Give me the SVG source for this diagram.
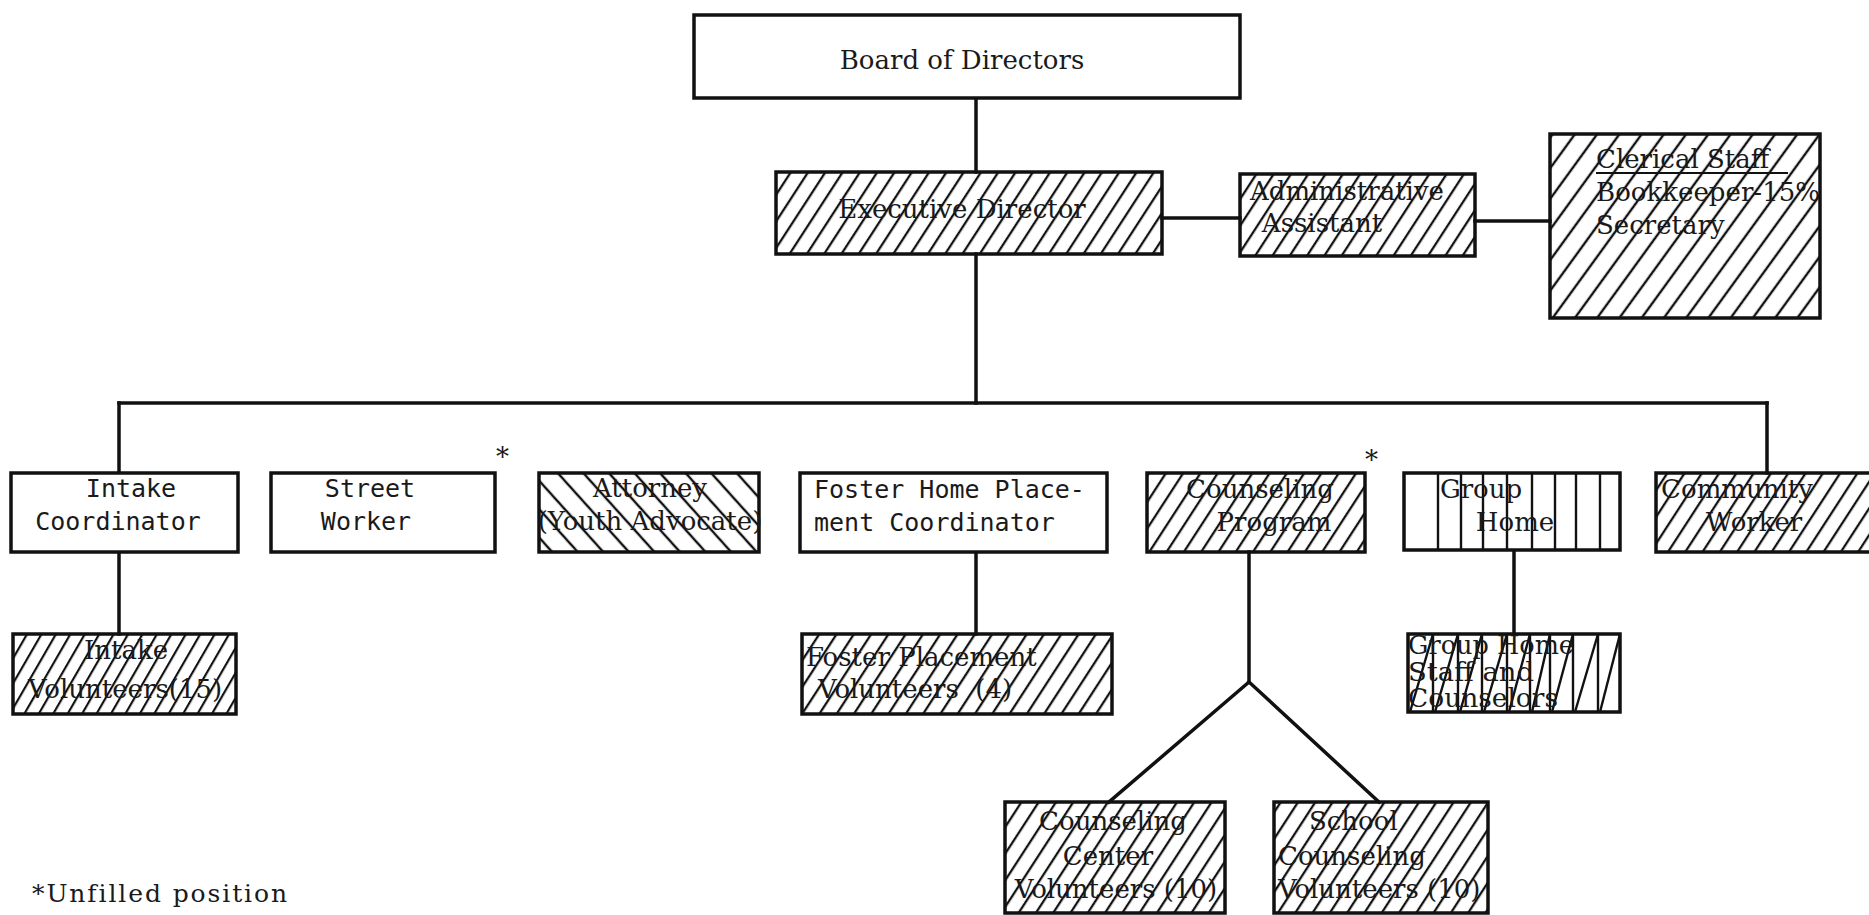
<svg xmlns="http://www.w3.org/2000/svg" width="1869" height="915" viewBox="0 0 1869 915">
<defs>
<pattern id="hf" width="14.5" height="30" patternUnits="userSpaceOnUse" patternTransform="rotate(33)"><line x1="3" y1="0" x2="3" y2="30" stroke="#111" stroke-width="2.3"/></pattern>
<pattern id="hd" width="12.5" height="30" patternUnits="userSpaceOnUse" patternTransform="rotate(30)"><line x1="3" y1="0" x2="3" y2="30" stroke="#111" stroke-width="2.2"/></pattern>
<pattern id="hc" width="18" height="30" patternUnits="userSpaceOnUse" patternTransform="rotate(36)"><line x1="3" y1="0" x2="3" y2="30" stroke="#111" stroke-width="2.4"/></pattern>
<pattern id="hb" width="19" height="30" patternUnits="userSpaceOnUse" patternTransform="rotate(-42)"><line x1="3" y1="0" x2="3" y2="30" stroke="#111" stroke-width="2.4"/></pattern>
</defs>
<style>
.box{stroke:#111;stroke-width:3.5;fill:#fff}
.hf{fill:url(#hf)}
.hd{fill:url(#hd)}
.hc{fill:url(#hc)}
.hb{fill:url(#hb)}
.con{stroke:#111;stroke-width:3.5;fill:none;stroke-linecap:square}
.vl{stroke:#111;stroke-width:2.4}
text{font-family:"DejaVu Serif","Liberation Serif",serif;font-size:26px;fill:#1a1a1a}
.m{font-family:"DejaVu Sans Mono","Liberation Mono",monospace;font-size:25px}
.c{text-anchor:middle}
.f{font-size:25px;letter-spacing:1.9px}
</style>
<rect width="1869" height="915" fill="#fff"/>
<g id="connectors">
<line class="con" x1="976" y1="98" x2="976" y2="172"/>
<line class="con" x1="1162" y1="218" x2="1240" y2="218"/>
<line class="con" x1="1475" y1="221" x2="1550" y2="221"/>
<line class="con" x1="976" y1="254" x2="976" y2="403"/>
<line class="con" x1="119" y1="403" x2="1767" y2="403"/>
<line class="con" x1="119" y1="403" x2="119" y2="473"/>
<line class="con" x1="1767" y1="403" x2="1767" y2="473"/>
<line class="con" x1="119" y1="552" x2="119" y2="634"/>
<line class="con" x1="976" y1="552" x2="976" y2="634"/>
<line class="con" x1="1514" y1="550" x2="1514" y2="634"/>
<polyline class="con" points="1249,552 1249,682 1109,802"/>
<line class="con" x1="1249" y1="682" x2="1379" y2="802"/>
</g>
<g id="board">
<rect class="box" x="694" y="15" width="546" height="83"/>
<text class="c" x="962" y="69">Board of Directors</text>
</g>
<g id="executive-director">
<rect class="box hf" x="776" y="172" width="386" height="82"/>
<text class="c" x="962" y="218" font-size="27">Executive Director</text>
</g>
<g id="admin-assistant">
<rect class="box hf" x="1240" y="174" width="235" height="82"/>
<text class="c" x="1347" y="200">Administrative</text>
<text class="c" x="1322" y="232">Assistant</text>
</g>
<g id="clerical-staff">
<rect class="box hc" x="1550" y="134" width="270" height="184"/>
<text x="1596" y="168" font-size="26">Clerical Staff</text>
<line x1="1596" y1="173" x2="1788" y2="173" stroke="#111" stroke-width="2"/>
<text x="1596" y="201" textLength="224" lengthAdjust="spacingAndGlyphs" font-size="26">Bookkeeper-15%</text>
<text x="1596" y="234" font-size="26">Secretary</text>
</g>
<g id="intake-coordinator">
<rect class="box" x="11" y="473" width="227" height="79"/>
<text class="m c" x="131" y="497">Intake</text>
<text class="m c" x="118" y="530">Coordinator</text>
</g>
<g id="street-worker">
<rect class="box" x="271" y="473" width="224" height="79"/>
<text class="m c" x="370" y="497">Street</text>
<text class="m c" x="366" y="530">Worker</text>
<text x="496" y="466" font-size="26" font-family="DejaVu Sans Mono,monospace">*</text>
</g>
<g id="attorney">
<rect class="box hb" x="539" y="473" width="220" height="79"/>
<text class="c" x="650" y="497" font-size="25">Attorney</text>
<text class="c" x="650" y="530" font-size="25">(Youth Advocate)</text>
</g>
<g id="foster-coordinator">
<rect class="box" x="800" y="473" width="307" height="79"/>
<text class="m" x="814" y="498" font-size="26.8">Foster Home Place-</text>
<text class="m" x="814" y="531" font-size="26.8">ment Coordinator</text>
</g>
<g id="counseling-program">
<rect class="box hf" x="1147" y="473" width="218" height="79"/>
<text class="c" x="1260" y="498">Counseling</text>
<text class="c" x="1274" y="531">Program</text>
<text x="1365" y="469" font-size="26" font-family="DejaVu Sans Mono,monospace">*</text>
</g>
<g id="group-home">
<rect class="box" x="1404" y="473" width="216" height="77"/>
<line class="vl" x1="1438" y1="473" x2="1438" y2="550"/>
<line class="vl" x1="1461" y1="473" x2="1461" y2="550"/>
<line class="vl" x1="1483" y1="473" x2="1483" y2="550"/>
<line class="vl" x1="1507" y1="473" x2="1507" y2="550"/>
<line class="vl" x1="1532" y1="473" x2="1532" y2="550"/>
<line class="vl" x1="1555" y1="473" x2="1555" y2="550"/>
<line class="vl" x1="1576" y1="473" x2="1576" y2="550"/>
<line class="vl" x1="1600" y1="473" x2="1600" y2="550"/>
<text class="c" x="1481" y="498">Group</text>
<text class="c" x="1515" y="531">Home</text>
</g>
<g id="community-worker">
<rect class="box hf" x="1656" y="473" width="230" height="79"/>
<text class="c" x="1737" y="498">Community</text>
<text class="c" x="1754" y="531">Worker</text>
</g>
<g id="intake-volunteers">
<rect class="box hd" x="13" y="634" width="223" height="80"/>
<text class="c" x="126" y="659" font-size="27">Intake</text>
<text class="c" x="125" y="698" font-size="27.5">Volunteers(15)</text>
</g>
<g id="foster-volunteers">
<rect class="box hf" x="802" y="634" width="310" height="80"/>
<text x="806" y="666" font-size="27.5">Foster Placement</text>
<text x="818" y="698" font-size="27.5">Volunteers&#160; (4)</text>
</g>
<g id="group-home-staff">
<rect class="box" x="1408" y="634" width="212" height="78"/>
<line class="vl" x1="1433" y1="634" x2="1433" y2="712"/>
<line class="vl" x1="1458" y1="634" x2="1458" y2="712"/>
<line class="vl" x1="1482" y1="634" x2="1482" y2="712"/>
<line class="vl" x1="1507" y1="634" x2="1507" y2="712"/>
<line class="vl" x1="1530" y1="634" x2="1530" y2="712"/>
<line class="vl" x1="1550" y1="634" x2="1550" y2="712"/>
<line class="vl" x1="1573" y1="634" x2="1573" y2="712"/>
<line class="vl" x1="1598" y1="634" x2="1598" y2="712"/>
<line class="vl" x1="1410" y1="712" x2="1433" y2="634"/>
<line class="vl" x1="1435" y1="712" x2="1458" y2="634"/>
<line class="vl" x1="1460" y1="712" x2="1482" y2="634"/>
<line class="vl" x1="1484" y1="712" x2="1507" y2="634"/>
<line class="vl" x1="1509" y1="712" x2="1530" y2="634"/>
<line class="vl" x1="1532" y1="712" x2="1550" y2="634"/>
<line class="vl" x1="1552" y1="712" x2="1573" y2="634"/>
<line class="vl" x1="1575" y1="712" x2="1598" y2="634"/>
<line class="vl" x1="1600" y1="712" x2="1620" y2="634"/>
<text x="1408" y="654" font-size="21" textLength="166" lengthAdjust="spacingAndGlyphs">Group Home</text>
<text x="1408" y="680.5" font-size="21" textLength="126" lengthAdjust="spacingAndGlyphs">Staff and</text>
<text x="1408" y="707" font-size="21" textLength="150" lengthAdjust="spacingAndGlyphs">Counselors</text>
</g>
<g id="counseling-center-volunteers">
<rect class="box hf" x="1005" y="802" width="220" height="111"/>
<text class="c" x="1113" y="830" font-size="27">Counseling</text>
<text class="c" x="1108" y="865" font-size="27">Center</text>
<text class="c" x="1116" y="898" font-size="27">Volunteers (10)</text>
</g>
<g id="school-counseling-volunteers">
<rect class="box hf" x="1274" y="802" width="214" height="111"/>
<text x="1309" y="830" font-size="27">School</text>
<text x="1278" y="865" font-size="27">Counseling</text>
<text x="1278" y="898" font-size="27">Volunteers (10)</text>
</g>
<g id="footnote">
<text class="f" x="32" y="902">*Unfilled position</text>
</g>
</svg>
